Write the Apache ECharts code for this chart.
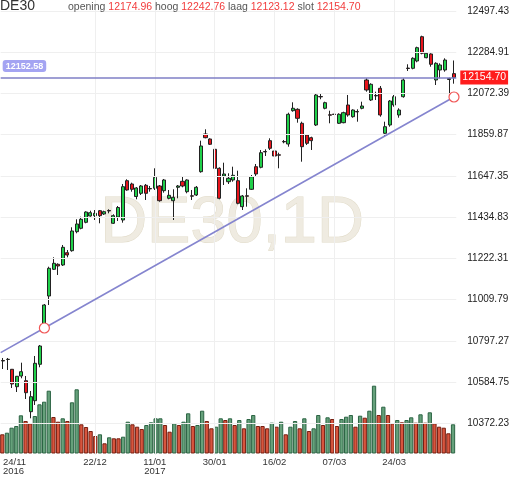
<!DOCTYPE html>
<html>
<head>
<meta charset="utf-8">
<title>DE30</title>
<script src="https://cdn.jsdelivr.net/npm/echarts@6/dist/echarts.min.js"></script>
<style>
  html, body { margin: 0; padding: 0; background: #fff; }
  #chart { width: 512px; height: 477px; }
</style>
</head>
<body>
<div id="chart"></div>
<script>
// trading days, 24/11/2016 .. 12/04/2017
var dates = [
  '24/11','25/11','28/11','29/11','30/11',
  '01/12','02/12','05/12','06/12','07/12','08/12','09/12','12/12','13/12','14/12','15/12','16/12',
  '19/12','20/12','21/12','22/12','23/12','27/12','28/12','29/12','30/12',
  '02/01','03/01','04/01','05/01','06/01','09/01','10/01','11/01','12/01','13/01','16/01','17/01',
  '18/01','19/01','20/01','23/01','24/01','25/01','26/01','27/01','30/01','31/01',
  '01/02','02/02','03/02','06/02','07/02','08/02','09/02','10/02','13/02','14/02','15/02','16/02',
  '17/02','20/02','21/02','22/02','23/02','24/02','27/02','28/02',
  '01/03','02/03','03/03','06/03','07/03','08/03','09/03','10/03','13/03','14/03','15/03','16/03',
  '17/03','20/03','21/03','22/03','23/03','24/03','27/03','28/03','29/03','30/03','31/03',
  '03/04','04/04','05/04','06/04','07/04','10/04','11/04','12/04'
];
var labelDates = ['24/11', '22/12', '11/01', '30/01', '16/02', '07/03', '24/03'];
var yearLabels = { '24/11': '2016', '11/01': '2017' };

var opens = [
  10695.9, 10701.0, 10650.5, 10560.8, 10615.9, 10591.7, 10431.9, 10488.6, 10676.3, 10878.9,
  11028.4, 11166.1, 11191.9, 11188.3, 11251.7, 11262.0, 11360.0, 11377.5, 11408.4, 11440.9,
  11442.5, 11468.2, 11451.2, 11469.3, 11403.3, 11435.7, 11420.3, 11622.9, 11605.9, 11541.4,
  11557.9, 11599.2, 11582.7, 11583.7, 11595.6, 11571.4, 11532.2, 11519.8, 11588.9, 11619.8,
  11566.2, 11545.1, 11549.2, 11669.3, 11863.7, 11837.9, 11784.8, 11686.8, 11647.1, 11617.7,
  11626.5, 11622.9, 11488.9, 11545.1, 11578.6, 11695.1, 11692.0, 11773.5, 11829.2, 11776.0,
  11756.5, 11825.0, 11812.1, 11983.8, 11991.0, 11918.9, 11858.5, 11844.6, 11910.1, 12057.0,
  11996.2, 11962.7, 11966.3, 11918.9, 11922.0, 12013.2, 11952.9, 11979.7, 11996.2, 12142.1,
  12039.0, 12062.2, 12099.3, 11867.3, 11910.1, 12013.2, 11961.7, 12056.0, 12203.5, 12202.4,
  12240.1, 12365.4, 12257.1, 12276.2, 12142.1, 12193.7, 12193.7, 12144.7, 12174.96
];
var closes = [
  10693.3, 10702.1, 10574.7, 10614.4, 10638.1, 10529.8, 10509.2, 10681.4, 10770.6, 10982.0,
  11171.3, 11197.0, 11183.1, 11279.5, 11239.8, 11363.6, 11399.7, 11423.9, 11461.5, 11457.9,
  11454.8, 11442.5, 11463.1, 11466.7, 11442.5, 11484.7, 11592.0, 11575.0, 11578.6, 11585.3,
  11595.6, 11557.9, 11580.6, 11640.4, 11519.8, 11626.5, 11547.6, 11537.3, 11595.6, 11595.6,
  11626.5, 11543.0, 11588.9, 11801.8, 11844.6, 11810.6, 11686.8, 11532.2, 11657.5, 11635.3,
  11650.8, 11506.4, 11544.0, 11543.0, 11643.5, 11657.5, 11767.3, 11771.4, 11790.0, 11750.3,
  11754.4, 11823.0, 11965.3, 11996.2, 11944.6, 11798.2, 11815.7, 11829.2, 12064.8, 12055.0,
  12025.1, 11960.6, 11964.2, 11965.3, 11973.5, 11961.7, 11987.4, 11977.6, 12008.1, 12090.6,
  12120.0, 12060.1, 11961.7, 11901.3, 12033.8, 12056.0, 11987.4, 12142.1, 12201.4, 12254.0,
  12308.7, 12279.8, 12279.8, 12223.1, 12228.2, 12219.5, 12245.2, 12149.9, 12154.70
];
var lows = [
  10652.0, 10646.9, 10554.1, 10533.4, 10604.1, 10497.4, 10397.8, 10466.4, 10660.8, 10863.4,
  10982.0, 11162.5, 11136.7, 11183.1, 11228.0, 11256.8, 11351.7, 11372.3, 11403.3, 11437.3,
  11420.3, 11403.3, 11446.1, 11454.8, 11399.7, 11415.1, 11406.4, 11571.4, 11566.2, 11527.0,
  11549.2, 11523.4, 11566.2, 11575.0, 11514.6, 11561.0, 11527.0, 11420.3, 11532.2, 11588.9,
  11557.9, 11523.4, 11544.0, 11664.2, 11841.5, 11807.0, 11681.7, 11527.0, 11600.7, 11605.9,
  11617.7, 11501.2, 11471.8, 11488.9, 11575.0, 11643.5, 11686.8, 11750.3, 11781.2, 11733.2,
  11686.8, 11815.7, 11798.2, 11978.7, 11922.0, 11720.9, 11807.0, 11781.2, 11904.9, 12042.6,
  11991.0, 11918.9, 11939.5, 11915.3, 11918.9, 11952.9, 11947.7, 11927.1, 11991.0, 12081.8,
  12033.8, 12039.0, 11952.9, 11849.8, 11901.3, 12004.4, 11947.7, 12050.9, 12188.5, 12197.3,
  12233.4, 12274.6, 12254.0, 12210.7, 12116.3, 12150.9, 12184.9, 12056.0, 12123.12
];
var highs = [
  10708.8, 10708.8, 10652.0, 10615.9, 10684.5, 10615.9, 10538.6, 10719.1, 10775.8, 10987.2,
  11179.5, 11228.0, 11197.0, 11291.4, 11265.6, 11382.7, 11423.9, 11437.3, 11465.1, 11468.2,
  11471.8, 11471.8, 11468.2, 11475.4, 11449.7, 11492.4, 11605.9, 11630.1, 11612.6, 11590.4,
  11600.7, 11605.9, 11595.6, 11686.8, 11600.7, 11631.7, 11575.0, 11578.6, 11600.7, 11643.5,
  11630.1, 11575.0, 11595.6, 11829.2, 11887.9, 11841.5, 11790.0, 11692.0, 11715.7, 11661.1,
  11695.1, 11674.5, 11549.2, 11583.7, 11652.3, 11709.0, 11781.2, 11784.8, 11841.5, 11784.8,
  11767.3, 11832.8, 11973.5, 12027.1, 11996.2, 11927.1, 11863.7, 11849.8, 12069.9, 12069.9,
  12030.2, 11983.8, 11978.7, 11970.4, 11978.7, 12064.8, 11991.0, 11991.0, 12030.2, 12150.9,
  12125.1, 12081.8, 12111.2, 11927.1, 12039.0, 12064.8, 11996.2, 12150.9, 12223.1, 12259.2,
  12313.8, 12370.5, 12284.9, 12279.8, 12233.4, 12228.2, 12254.0, 12154.0, 12242.76
];
var volumes = [
  19.2, 20.8, 25.8, 27.5, 38.2, 32.5, 30.2, 37.5, 49.2, 51.8,
  62.8, 36.5, 31.8, 35.2, 32.5, 51.2, 64.2, 29.2, 26.5, 22.5,
  17.5, 19.2, 10.2, 16.2, 15.2, 15.2, 16.8, 31.8, 29.2, 26.8,
  24.5, 28.5, 31.2, 35.2, 35.2, 28.5, 21.8, 30.2, 28.5, 31.8,
  40.2, 27.5, 28.5, 42.8, 32.5, 25.2, 26.8, 35.2, 33.5, 35.2,
  28.5, 33.5, 25.2, 34.5, 38.5, 27.5, 27.5, 25.2, 30.8, 26.8,
  31.8, 19.2, 26.8, 32.5, 25.2, 35.2, 22.5, 25.2, 38.5, 28.5,
  36.2, 34.5, 27.5, 34.5, 36.8, 38.5, 26.8, 37.8, 35.8, 42.8,
  67.8, 38.5, 46.8, 38.5, 30.2, 33.5, 31.2, 33.5, 36.2, 30.8,
  39.2, 30.8, 41.2, 30.2, 26.8, 25.8, 20.2, 29.2, null
];
// G = green volume bar, R = red volume bar
var volumeDir = 'RGGGGRRGGG' + 'GRRGRGGRRR' + 'RGRGRRGGRR' + 'RGGGGRRGRG' + 'GRGGRRGGRG' +
                'RGRGGRRRGR' + 'GRGGRGRGGR' + 'GRRGGGRGRG' + 'GRGRRGRGGR' + 'GRGRRRRGR';

var yTicks = [12497.43, 12284.91, 12072.39, 11859.87, 11647.35, 11434.83, 11222.31, 11009.79, 10797.27, 10584.75, 10372.23];
var yMin = 10208.6, yMax = 12554.57;
var levelPrice = 12152.58;
// trend line anchors: [bar index, price]
var trendPoints = [[9, 10863.4], [98, 12054.4]];

var last = dates.length - 1;
var lastClose = closes[last];

var candleData = dates.map(function (d, i) {
  return [opens[i], closes[i], lows[i], highs[i]];
});
var volumeData = volumes.map(function (v, i) {
  var up = volumeDir.charAt(i) === 'G';
  return {
    value: v,
    itemStyle: {
      color: up ? 'rgba(94,156,116,0.95)' : 'rgba(214,76,52,0.95)',
      borderColor: up ? '#2c6444' : '#761f11',
      borderWidth: 1
    }
  };
});

var slope = (trendPoints[1][1] - trendPoints[0][1]) / (trendPoints[1][0] - trendPoints[0][0]);
var edgeX = -0.5;
var trendData = [
  { value: [edgeX, trendPoints[0][1] + (edgeX - trendPoints[0][0]) * slope], symbol: 'none' },
  { value: trendPoints[0] },
  { value: trendPoints[1] }
];

var gridLines = yTicks.map(function (v) { return { yAxis: v }; });
labelDates.slice(1).forEach(function (d) { gridLines.push({ xAxis: dates.indexOf(d) }); });

var font = '"Liberation Sans", Arial, sans-serif';
var chart = echarts.init(document.getElementById('chart'), null, { renderer: 'canvas' });
chart.setOption({
  animation: false,
  textStyle: { fontFamily: font },
  title: [{
    text: 'DE30', left: 0, top: -1, padding: 0,
    textStyle: { fontSize: 14, fontWeight: 'normal', color: '#333', fontFamily: font }
  }, {
    text: 'opening {v|' + opens[last].toFixed(2) + '} hoog {v|' + highs[last].toFixed(2) +
          '} laag {v|' + lows[last].toFixed(2) + '} slot {v|' + closes[last].toFixed(2) + '}',
    left: 68, top: 2, padding: 0,
    textStyle: {
      fontSize: 10.5, fontWeight: 'normal', color: '#555', fontFamily: font,
      rich: { v: { fontSize: 10.5, color: '#f23c3c', fontFamily: font } }
    }
  }],
  graphic: [{
    type: 'text', x: 232, y: 224, z: 0, silent: true,
    style: {
      text: 'DE30,1D', font: '65px "Liberation Sans", Arial, sans-serif',
      fill: '#efebe1', stroke: '#e1dbc9', lineWidth: 1,
      align: 'center', verticalAlign: 'middle'
    }
  }],
  grid: [
    { left: 0, right: 52, top: 0, bottom: 22 },
    { left: 0, right: 52, top: 353.5, bottom: 23.5 }
  ],
  xAxis: [{
    type: 'category', gridIndex: 0, data: dates, boundaryGap: true,
    axisLine: { show: false }, axisTick: { show: false }, splitLine: { show: false },
    axisLabel: {
      interval: function (i, v) { return labelDates.indexOf(v) >= 0; },
      formatter: function (v) { return yearLabels[v] ? v + '\n' + yearLabels[v] : v; },
      fontSize: 9.5, lineHeight: 9, color: '#333', margin: 3,
      alignMinLabel: 'left'
    }
  }, {
    type: 'category', gridIndex: 1, data: dates, boundaryGap: true, show: false
  }, {
    type: 'value', gridIndex: 0, min: -0.5, max: dates.length - 0.5, show: false
  }],
  yAxis: [{
    type: 'value', gridIndex: 0, position: 'right', min: yMin, max: yMax, scale: true,
    axisLine: { show: false }, axisTick: { show: false }, splitLine: { show: false },
    axisLabel: {
      customValues: yTicks, showMinLabel: true, showMaxLabel: true,
      formatter: function (v) { return v.toFixed(2); },
      fontSize: 10, color: '#222', margin: 11
    }
  }, {
    type: 'value', gridIndex: 1, min: 0, max: 100, show: false
  }],
  series: [{
    name: 'grid', type: 'line', xAxisIndex: 2, yAxisIndex: 0, data: [], z: 1, silent: true,
    markLine: {
      silent: true, symbol: ['none', 'none'], animation: false,
      label: { show: false },
      lineStyle: { color: '#efefef', width: 1, type: 'solid' },
      data: gridLines
    }
  }, {
    name: 'volume', type: 'bar', xAxisIndex: 1, yAxisIndex: 1, data: volumeData,
    barCategoryGap: '8%', z: 2, silent: true
  }, {
    name: 'DE30', type: 'candlestick', xAxisIndex: 0, yAxisIndex: 0, data: candleData,
    barWidth: 3.6, z: 4, silent: true,
    itemStyle: {
      color: '#20d04a', color0: '#e8141c',
      borderColor: '#222', borderColor0: '#222', borderColorDoji: '#222', borderWidth: 1
    },
    markLine: {
      silent: true, symbol: ['none', 'none'], animation: false,
      data: [{
        yAxis: levelPrice,
        lineStyle: { color: '#7f7fc6', width: 1.6, type: 'solid' },
        label: {
          show: true, position: 'insideStartTop', formatter: levelPrice.toFixed(2),
          backgroundColor: '#a4a4f2', color: '#fff', fontWeight: 'bold', fontSize: 9,
          padding: [2, 3, 1, 3], borderRadius: 3, distance: [2, 6]
        }
      }]
    }
  }, {
    name: 'trend', type: 'line', xAxisIndex: 2, yAxisIndex: 0, data: trendData, z: 5, silent: true,
    symbol: 'circle', symbolSize: 10, showSymbol: true,
    itemStyle: { color: '#fff', borderColor: '#f05656', borderWidth: 1.2 },
    lineStyle: { color: '#8585cf', width: 1.6 },
    markLine: {
      silent: true, symbol: ['none', 'none'], animation: false,
      data: [{
        yAxis: lastClose,
        lineStyle: { color: 'rgba(0,0,0,0)', width: 1 },
        label: {
          show: true, position: 'end', formatter: lastClose.toFixed(2),
          backgroundColor: '#ff1c1c', color: '#fff', fontSize: 10.5,
          padding: [2, 2, 1, 2], distance: 4
        }
      }]
    }
  }]
});
window.addEventListener('resize', function () { chart.resize(); });
</script>
</body>
</html>
